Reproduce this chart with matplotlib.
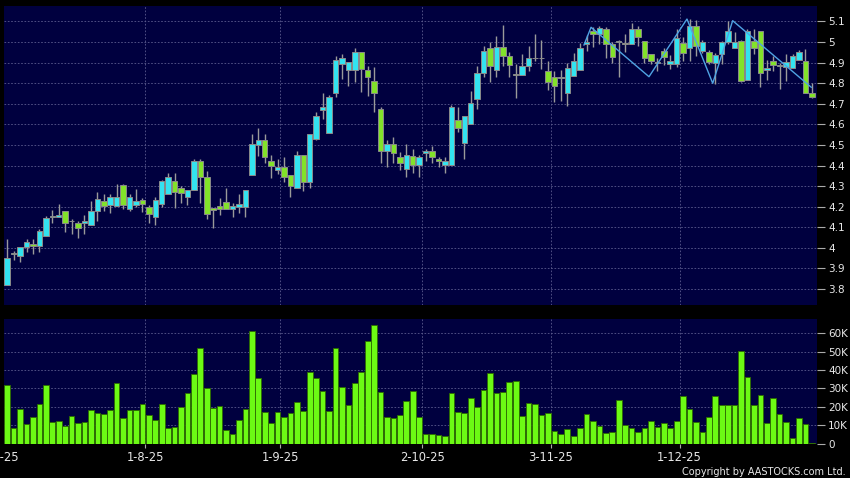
import numpy as np
import matplotlib.pyplot as plt

# daily candles, 2 Jul 2025 onwards
opens = [3.822, 3.971, 3.961, 4.002, 4.021, 4.011, 4.06, 4.152, 4.152, 4.181,
         4.129, 4.123, 4.123, 4.113, 4.181, 4.23, 4.21, 4.201, 4.303, 4.19,
         4.21, 4.232, 4.2, 4.152, 4.211, 4.26, 4.323, 4.289, 4.249, 4.279,
         4.42, 4.343, 4.192, 4.202, 4.221, 4.19, 4.2, 4.2, 4.352, 4.5,
         4.522, 4.42, 4.38, 4.391, 4.354, 4.289, 4.449, 4.322, 4.53, 4.671,
         4.559, 4.75, 4.891, 4.862, 4.862, 4.949, 4.862, 4.81, 4.673, 4.47,
         4.503, 4.44, 4.381, 4.448, 4.402, 4.46, 4.47, 4.43, 4.401, 4.401,
         4.619, 4.511, 4.6, 4.721, 4.847, 4.969, 4.862, 4.977, 4.93, 4.846,
         4.838, 4.881, 4.92, 4.92, 4.86, 4.828, 4.825, 4.75, 4.836, 4.863,
         4.988, 5.051, 5.037, 5.063, 4.988, 4.998, 4.996, 4.988, 5.063, 5.006,
         4.941, 4.9, 4.957, 4.893, 4.893, 4.996, 4.969, 5.079, 4.957, 4.949,
         4.9, 4.941, 4.998, 4.969, 5.006, 4.817, 5.006, 5.051, 4.864, 4.909,
         4.885, 4.88, 4.872, 4.912, 4.909, 4.75]
highs = [4.042, 3.984, 4.002, 4.042, 4.042, 4.091, 4.154, 4.183, 4.212, 4.181,
         4.138, 4.13, 4.159, 4.23, 4.27, 4.261, 4.261, 4.312, 4.312, 4.261,
         4.288, 4.24, 4.21, 4.245, 4.33, 4.362, 4.362, 4.3, 4.279, 4.43,
         4.43, 4.372, 4.195, 4.24, 4.29, 4.216, 4.262, 4.279, 4.553, 4.58,
         4.553, 4.45, 4.432, 4.44, 4.354, 4.469, 4.449, 4.551, 4.66, 4.754,
         4.74, 4.932, 4.94, 4.901, 4.97, 4.949, 4.883, 4.88, 4.682, 4.524,
         4.54, 4.467, 4.503, 4.478, 4.45, 4.48, 4.495, 4.44, 4.44, 4.695,
         4.682, 4.638, 4.76, 4.885, 4.978, 4.998, 5.029, 5.082, 4.95, 4.893,
         4.941, 4.98, 5.038, 5.009, 4.909, 4.86, 4.863, 4.9, 4.944, 4.993,
         5.035, 5.074, 5.079, 5.071, 5.0, 5.007, 5.04, 5.09, 5.079, 5.006,
         4.941, 4.92, 4.97, 4.935, 5.061, 5.025, 5.111, 5.106, 5.01, 4.96,
         4.945, 5.006, 5.103, 5.05, 5.01, 5.063, 5.063, 5.051, 4.912, 4.93,
         4.9, 4.94, 4.94, 4.961, 4.966, 4.799]
lows = [3.822, 3.943, 3.932, 3.98, 3.972, 3.98, 4.06, 4.121, 4.152, 4.078,
        4.068, 4.049, 4.068, 4.113, 4.131, 4.18, 4.17, 4.201, 4.19, 4.181,
        4.2, 4.176, 4.122, 4.111, 4.2, 4.26, 4.192, 4.22, 4.208, 4.279,
        4.216, 4.14, 4.095, 4.16, 4.19, 4.152, 4.168, 4.152, 4.352, 4.448,
        4.41, 4.341, 4.359, 4.321, 4.249, 4.289, 4.278, 4.289, 4.524, 4.626,
        4.559, 4.731, 4.818, 4.787, 4.807, 4.758, 4.739, 4.66, 4.41, 4.391,
        4.41, 4.378, 4.343, 4.362, 4.342, 4.423, 4.412, 4.391, 4.362, 4.401,
        4.561, 4.43, 4.6, 4.674, 4.828, 4.807, 4.828, 4.881, 4.828, 4.729,
        4.838, 4.86, 4.909, 4.87, 4.767, 4.71, 4.711, 4.69, 4.836, 4.863,
        4.957, 4.977, 4.988, 4.92, 4.9, 4.828, 4.95, 4.988, 4.98, 4.896,
        4.891, 4.86, 4.89, 4.87, 4.88, 4.909, 4.909, 4.93, 4.944, 4.893,
        4.796, 4.895, 4.99, 4.969, 4.804, 4.817, 4.941, 4.78, 4.815, 4.86,
        4.771, 4.812, 4.872, 4.912, 4.75, 4.729]
closes = [3.953, 3.971, 4.002, 4.031, 4.008, 4.081, 4.144, 4.152, 4.162, 4.123,
          4.129, 4.099, 4.133, 4.181, 4.239, 4.201, 4.247, 4.249, 4.21, 4.249,
          4.23, 4.211, 4.163, 4.232, 4.323, 4.343, 4.271, 4.268, 4.279, 4.42,
          4.343, 4.163, 4.182, 4.19, 4.19, 4.202, 4.211, 4.279, 4.503, 4.522,
          4.44, 4.4, 4.393, 4.344, 4.302, 4.449, 4.322, 4.551, 4.64, 4.682,
          4.731, 4.91, 4.92, 4.901, 4.949, 4.87, 4.828, 4.75, 4.47, 4.503,
          4.459, 4.41, 4.449, 4.402, 4.44, 4.47, 4.441, 4.422, 4.42, 4.682,
          4.58, 4.638, 4.702, 4.847, 4.957, 4.881, 4.977, 4.93, 4.89, 4.838,
          4.881, 4.92, 4.92, 4.92, 4.807, 4.788, 4.825, 4.873, 4.909, 4.97,
          4.998, 5.037, 5.069, 4.988, 4.928, 5.005, 4.988, 5.063, 5.025, 4.92,
          4.909, 4.9, 4.928, 4.909, 5.019, 4.948, 5.079, 4.978, 4.998, 4.904,
          4.938, 4.998, 5.051, 4.998, 4.809, 5.051, 4.969, 4.847, 4.872, 4.89,
          4.885, 4.901, 4.93, 4.949, 4.75, 4.731]
# volume in thousands of shares
volumes_k = [31.8, 8.5, 18.7, 10.5, 14.4, 21.3, 31.6, 11.6, 12.2, 9.5,
             15.1, 11.1, 11.6, 18.2, 16.5, 16.0, 18.2, 32.9, 13.6, 18.0,
             18.0, 21.3, 15.5, 12.7, 21.3, 8.5, 8.9, 19.6, 27.6, 37.6,
             51.8, 30.2, 19.5, 20.2, 7.5, 4.9, 12.7, 18.7, 61.1, 35.8,
             16.9, 11.1, 16.9, 14.5, 16.5, 22.5, 17.5, 38.9, 35.5, 28.5,
             17.5, 51.8, 30.9, 20.7, 32.7, 39.1, 55.5, 64.5, 28.2, 14.5,
             14.0, 15.3, 23.3, 28.7, 14.4, 4.9, 4.9, 4.5, 4.2, 27.5,
             17.1, 16.4, 24.7, 19.6, 29.1, 38.4, 27.5, 27.8, 33.3, 34.0,
             14.9, 22.0, 21.3, 15.6, 16.7, 6.9, 4.9, 8.0, 4.2, 8.5,
             15.8, 12.4, 9.6, 5.6, 6.0, 23.5, 10.2, 8.4, 6.4, 8.5,
             12.2, 9.1, 11.1, 8.4, 12.5, 26.0, 18.5, 11.6, 6.0, 14.5,
             26.0, 20.9, 21.1, 20.9, 50.4, 36.2, 20.9, 26.4, 10.9, 24.7,
             15.8, 11.5, 2.9, 14.0, 10.5, 0.5]

# zigzag overlay (bar index, price)
zig_idx = [89.6, 90.7, 99.7, 105.6, 109.6, 112.7, 124.9]
zig_price = [4.985, 5.071, 4.831, 5.111, 4.799, 5.103, 4.78]

# first trading day of each month (bar index) and its label
month_idx = [0, 22, 43, 65, 85, 105]
month_labels = ['1-7-25', '1-8-25', '1-9-25', '2-10-25', '3-11-25', '1-12-25']

price_ticks = np.round(np.arange(3.8, 5.15, 0.1), 1)
vol_ticks = [0, 10, 20, 30, 40, 50, 60]

UP = '#33e3f0'
DOWN = '#82e22a'
BG = '#00003f'
GRID = '#5c5c8e'
TXT = '#e8e8e8'

o = np.array(opens)
h = np.array(highs)
l = np.array(lows)
c = np.array(closes)
x = np.arange(len(o))

fig = plt.figure(figsize=(8.5, 4.78), dpi=100, facecolor='black')
ax = fig.add_axes([4 / 850, 1 - 305 / 478, 813 / 850, 299 / 478], facecolor=BG)
ax2 = fig.add_axes([4 / 850, 1 - 443.5 / 478, 813 / 850, 124.5 / 478], facecolor=BG)

grid_x = [m - 0.55 for m in month_idx[1:]]

# price panel
ax.vlines(x, l, h, color='#9a9a9a', linewidth=1, zorder=2)
body_lo = np.minimum(o, c)
body_h = np.maximum(np.abs(c - o), 0.003)
colors = [UP if cc >= oo else DOWN for oo, cc in zip(o, c)]
ax.bar(x, body_h, bottom=body_lo, width=0.85, color=colors,
       edgecolor='#8a8a8a', linewidth=0.7, zorder=3)
ax.plot(zig_idx, zig_price, color='#4fa3e3', linewidth=1, zorder=4)

ax.set_xlim(-0.5, 125.8)
ax.set_ylim(3.7228, 5.1743)
ax.set_yticks(price_ticks)
ax.set_yticklabels(['%g' % t for t in price_ticks])
ax.yaxis.tick_right()
ax.set_xticks(grid_x)
ax.set_xticklabels([])
ax.tick_params(axis='x', length=0)
ax.tick_params(axis='y', colors='#aaaaaa', labelcolor=TXT, labelsize=7.5,
               length=6, width=0.8, pad=2)
ax.grid(True, color=GRID, linestyle=(0, (2, 2)), linewidth=0.6)
ax.set_axisbelow(True)
for s in ax.spines.values():
    s.set_visible(False)

# volume panel
ax2.bar(x, volumes_k, width=0.88, color='#6cfa14', edgecolor='#2d6a00',
        linewidth=0.6, zorder=3)
ax2.set_xlim(-0.5, 125.8)
ax2.set_ylim(0, 67.7)
ax2.set_yticks(vol_ticks)
ax2.set_yticklabels(['0' if v == 0 else '%dK' % v for v in vol_ticks])
ax2.yaxis.tick_right()
ax2.set_xticks(grid_x)
ax2.set_xticklabels(month_labels[1:])
ax2.tick_params(axis='x', colors='#aaaaaa', labelcolor=TXT, labelsize=8.3,
                length=3, width=0.8, pad=2.5)
ax2.tick_params(axis='y', colors='#aaaaaa', labelcolor=TXT, labelsize=7.5,
                length=6, width=0.8, pad=2)
ax2.grid(True, color=GRID, linestyle=(0, (2, 2)), linewidth=0.6)
ax2.set_axisbelow(True)
for s in ax2.spines.values():
    s.set_visible(False)

# first month label sits half off the left edge
ax2.text(month_idx[0] - 1.05, -0.115, month_labels[0], color=TXT, fontsize=8.3,
         ha='center', va='center', transform=ax2.get_xaxis_transform(),
         clip_on=False)

fig.text(846 / 850, 1 - 472 / 478, 'Copyright by AASTOCKS.com Ltd.',
         color=TXT, fontsize=7, ha='right', va='center')

fig.savefig('out.png', dpi=100, facecolor='black')
